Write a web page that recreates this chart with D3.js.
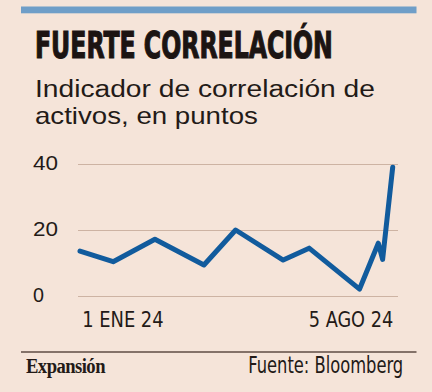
<!DOCTYPE html>
<html>
<head>
<meta charset="utf-8">
<script src="https://cdn.jsdelivr.net/npm/d3@7"></script>
<style>
  html, body { margin: 0; padding: 0; background: #f5e4d9; }
  svg { display: block; }
</style>
</head>
<body>
<svg id="chart" width="432" height="392"></svg>
<script>
// ---- data ----
const dates = ["2024-01-01","2024-01-24","2024-02-22","2024-03-27","2024-04-18","2024-05-21","2024-06-08","2024-07-13","2024-07-26","2024-07-29","2024-08-05"];
const values = [13.6, 10.4, 17.2, 9.4, 20, 10.9, 14.5, 2.1, 16, 11.1, 39];
const yTicks = [0, 20, 40];
const xTickDates = ["2024-01-01", "2024-08-05"];
const xTickLabels = ["1 ENE 24", "5 AGO 24"];
const title = "FUERTE CORRELACIÓN";
const subtitle = ["Indicador de correlación de", "activos, en puntos"];
const source = "Fuente: Bloomberg";
const brand = "Expansión";

const parse = d3.timeParse("%Y-%m-%d");
const data = dates.map((d, i) => ({ date: parse(d), value: values[i] }));

const svg = d3.select("#chart");
const W = 432, H = 392;
svg.append("rect").attr("width", W).attr("height", H).attr("fill", "#f5e4d9");

const narrow = "'Liberation Sans Narrow', 'DejaVu Sans Condensed', 'Arial Narrow', sans-serif";
const sans = "'Liberation Sans', Arial, sans-serif";

// scale a text element horizontally so it spans `width`, anchored at (ax, ay)
function fitWidth(node, width, ax) {
  const w = node.getComputedTextLength();
  if (!w) return;
  const s = width / w;
  node.setAttribute("transform", `translate(${ax},0) scale(${s},1) translate(${-ax},0)`);
}

// top bar
svg.append("rect").attr("x", 21).attr("y", 6.5).attr("width", 395.5).attr("height", 6.8).attr("fill", "#6f9ec8");

// title
const t = svg.append("text").attr("x", 35).attr("y", 58.3)
  .attr("font-family", narrow).attr("font-weight", "bold").attr("font-size", 37)
  .attr("fill", "#1c1412").attr("stroke", "#1c1412").attr("stroke-width", 1.1)
  .text(title);
fitWidth(t.node(), 298, 35);

// subtitle
const subLens = [340, 223];
subtitle.forEach((s, i) => {
  const st = svg.append("text").attr("x", 35).attr("y", 96.8 + i * 27)
    .attr("font-family", sans).attr("font-size", 23)
    .attr("fill", "#231a17")
    .text(s);
  fitWidth(st.node(), subLens[i], 35);
});

// scales
const x = d3.scaleTime()
  .domain([parse(dates[0]), parse(dates[dates.length - 1])])
  .range([80, 392.7]);
const y = d3.scaleLinear().domain([0, 40]).range([296, 164]);

// gridlines + labels via axis
const yAxis = d3.axisRight(y).tickValues(yTicks).tickSize(320).tickFormat(d3.format("d"));
const gy = svg.append("g").attr("transform", "translate(78,0)").call(yAxis);
gy.select(".domain").remove();
gy.selectAll(".tick line").attr("stroke", "#cdb3a3").attr("stroke-width", 1.2);
gy.selectAll(".tick text")
  .attr("x", -45).attr("dy", null).attr("y", 5)
  .attr("text-anchor", "start")
  .attr("font-family", sans).attr("font-size", 20.5)
  .attr("fill", "#231a17")
  .each(function(d) { fitWidth(this, String(d).length === 1 ? 11 : 25, -45); });

// x labels via axis
const xAxis = d3.axisBottom(x).tickValues(xTickDates.map(parse))
  .tickFormat((d, i) => xTickLabels[i]).tickSize(0);
const gx = svg.append("g").attr("transform", "translate(0,312)").call(xAxis);
gx.select(".domain").remove();
gx.selectAll(".tick text")
  .attr("y", 14.7).attr("dy", "0")
  .attr("font-family", narrow).attr("font-size", 21)
  .attr("fill", "#231a17")
  .attr("text-anchor", (d, i) => i === 0 ? "start" : "end")
  .attr("x", (d, i) => i === 0 ? 1.7 : 0)
  .each(function(d, i) { fitWidth(this, i === 0 ? 81.5 : 84.5, i === 0 ? 1.7 : 0); });

// line
const line = d3.line().x(d => x(d.date)).y(d => y(d.value));
svg.append("path").datum(data)
  .attr("d", line)
  .attr("fill", "none")
  .attr("stroke", "#115b9d")
  .attr("stroke-width", 5)
  .attr("stroke-linejoin", "round")
  .attr("stroke-linecap", "round");

// footer
svg.append("line").attr("x1", 21).attr("x2", 416.5).attr("y1", 352).attr("y2", 352)
  .attr("stroke", "#5e4c43").attr("stroke-width", 1.3);
const b = svg.append("text").attr("x", 26).attr("y", 373.5)
  .attr("font-family", "'Liberation Serif', 'DejaVu Serif', serif").attr("font-weight", "bold")
  .attr("font-size", 20.5).attr("fill", "#231a17")
  .attr("letter-spacing", -0.6)
  .text(brand);
fitWidth(b.node(), 79, 26);
const src = svg.append("text").attr("x", 248.3).attr("y", 373.5)
  .attr("font-family", narrow).attr("font-size", 22.5).attr("fill", "#231a17")
  .text(source);
fitWidth(src.node(), 155, 248.3);
</script>
</body>
</html>
